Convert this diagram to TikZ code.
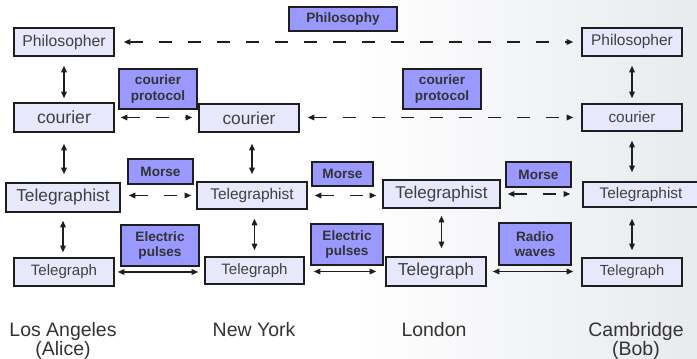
\documentclass[tikz,border=0pt]{standalone}
\usepackage{fontspec}
\setmainfont{Liberation Sans}
\usetikzlibrary{arrows.meta}
\definecolor{boxfill}{RGB}{232,232,252}
\definecolor{tagfill}{RGB}{153,153,255}
\definecolor{boxtext}{RGB}{64,64,64}
\definecolor{tagtext}{RGB}{51,51,51}
\definecolor{bggrey}{RGB}{232,234,238}
\definecolor{edge}{RGB}{30,30,30}

\newcommand{\fs}[1]{\fontsize{#1}{#1}\selectfont}

\begin{document}
\begin{tikzpicture}[x=0.75pt,y=-0.75pt,
  station/.style 2 args={draw=edge, line width=1.1pt, fill=boxfill, text=boxtext,
    inner sep=0pt, minimum width=#1*0.75pt, minimum height=#2*0.75pt},
  proto/.style 2 args={draw=edge, line width=1.1pt, fill=tagfill, text=tagtext,
    font=\bfseries\fontsize{10.2}{11.6}\selectfont, align=center, inner sep=0pt,
    minimum width=#1*0.75pt, minimum height=#2*0.75pt},
  link/.style={line width=1.05pt, draw=edge,
    {Triangle[length=5pt,width=4.2pt]}-{Triangle[length=5pt,width=4.2pt]}},
  peer/.style={link, dash pattern=on 9.75pt off 12pt},
  cut/.style 2 args={shorten <=#1*0.75pt, shorten >=#2*0.75pt},
  city/.style={text=tagtext, font=\fontsize{14.6}{14.3}\selectfont, align=center,
    inner sep=0pt, anchor=north}
]
\useasboundingbox (0,0) rectangle (697,359);

% soft backdrop
\fill[white] (0,0) rectangle (697,359);
\shade[left color=white, right color=bggrey] (350,0) rectangle (697,359);

% stations: Los Angeles, New York, London, Cambridge
\node[station={100}{28}, font=\fs{11.8}] (phA) at (64,42) {Philosopher};
\node[station={100}{28}, font=\fs{11.6}] (phC) at (632,42) {Philosopher};

\node[station={100}{29}, font=\fs{13.2}] (coA) at (64,117.5) {courier};
\node[station={100}{28}, font=\fs{13}]   (coN) at (249,118) {courier};
\node[station={100}{27}, font=\fs{11.5}] (coC) at (632,117.5) {courier};

\node[station={114}{29}, font=\fs{13}]   (teA) at (63,197.5) {Telegraphist};
\node[station={110}{27}, font=\fs{11.6}] (teN) at (252,195.5) {Telegraphist};
\node[station={117}{28}, font=\fs{12.8}] (teL) at (441.5,194) {Telegraphist};
\node[station={116}{25}, font=\fs{11.5}] (teC) at (641,194.5) {Telegraphist};

\node[station={100}{28}, font=\fs{11.3}] (tgA) at (64,272) {Telegraph};
\node[station={99}{27},  font=\fs{11.3}] (tgN) at (254.5,270.5) {Telegraph};
\node[station={100}{29}, font=\fs{13}]   (tgL) at (436,271.5) {Telegraph};
\node[station={100}{28}, font=\fs{11}]   (tgC) at (632,272) {Telegraph};

% protocol tags
\node[proto={108}{24}] (tphil) at (343,19) {Philosophy};
\node[proto={78}{40}]  (tcp1)  at (158,89) {courier\\protocol};
\node[proto={78}{40}]  (tcp2)  at (442,89) {courier\\protocol};
\node[proto={65}{25}]  (tm1)   at (160.5,171.5) {Morse};
\node[proto={61}{24}]  (tm2)   at (342.5,174) {Morse};
\node[proto={65}{25}]  (tm3)   at (538.5,174.5) {Morse};
\node[proto={78}{41}]  (tep1)  at (160,245.5) {Electric\\pulses};
\node[proto={72}{41}]  (tep2)  at (347,244.5) {Electric\\pulses};
\node[proto={72}{42}]  (trw)   at (535,244) {Radio\\waves};

% city names
\node[city] (cLA) at (63,322)  {Los Angeles\\(Alice)};
\node[city] (cNY) at (254,322) {New York};
\node[city] (cLO) at (434,322) {London};
\node[city] (cCA) at (636,322) {Cambridge\\(Bob)};

% peer-to-peer links
\draw[peer, cut={9}{8}] (phA.east) -- (phA.east -| phC.west);
\draw[peer, cut={6}{6}] (coA.east) -- (coA.east -| coN.west);
\draw[peer, cut={8}{8}] (coN.east |- coC.west) -- (coC.west);
\draw[peer, cut={8}{5}] (teN.west -| teA.east) -- (teN.west);
\draw[peer, cut={7}{6}] (teN.east) -- (teN.east -| teL.west);
\draw[peer, cut={7}{12}] (teL.east) -- (teL.east -| teC.west);

% physical links
\draw[link, cut={3}{6}] (tgA.east) -- (tgA.east -| tgN.west);
\draw[link, cut={9}{9}] (tgN.east |- tgL.west) -- (tgL.west);
\draw[link, cut={6}{8}] (tgL.east) -- (tgL.east -| tgC.west);

% layer links
\draw[link, cut={9}{4}]  (phA.south) -- (phA.south |- coA.north);
\draw[link, cut={11}{8}] (coA.south) -- (coA.south |- teA.north);
\draw[link, cut={8}{5}]  (teA.south) -- (teA.south |- tgA.north);
\draw[link, cut={11}{7}] (teN.north |- coN.south) -- (teN.north);
\draw[link, cut={9}{6}]  (tgN.north |- teN.south) -- (tgN.north);
\draw[link, cut={7}{8}]  (teL.south) -- (teL.south |- tgL.north);
\draw[link, cut={9}{5}]  (phC.south) -- (phC.south |- coC.north);
\draw[link, cut={9}{9}]  (coC.south) -- (coC.south |- teC.north);
\draw[link, cut={11}{7}] (tgC.north |- teC.south) -- (tgC.north);
\end{tikzpicture}
\end{document}
